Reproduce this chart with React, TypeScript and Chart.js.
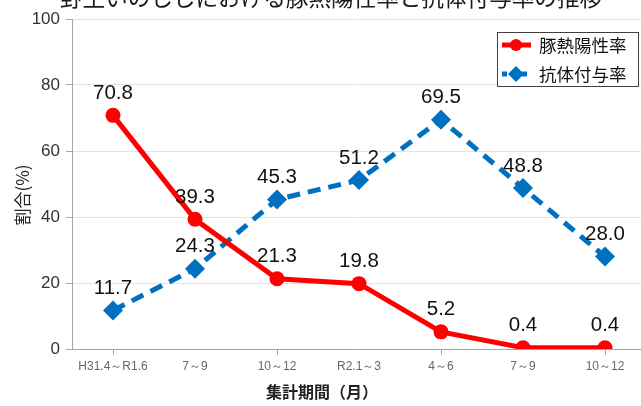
import { useEffect, useRef } from 'react';
import { Chart, registerables } from 'chart.js';
Chart.register(...registerables);

const categories = ['H31.4～R1.6', '7～9', '10～12', 'R2.1～3', '4～6', '7～9', '10～12'];
const positiveRate = [70.8, 39.3, 21.3, 19.8, 5.2, 0.4, 0.4];
const antibodyRate = [11.7, 24.3, 45.3, 51.2, 69.5, 48.8, 28.0];
const seriesNames = ['豚熱陽性率', '抗体付与率'];
const titleText = '野生いのししにおける豚熱陽性率と抗体付与率の推移';
const xTitle = '集計期間（月）';
const yTitle = '割合(%)';

const RED = '#ff0000';
const BLUE = '#0070c0';
const JP = '"Noto Sans CJK JP", "Noto Sans", sans-serif';
const NUM = '"Liberation Sans", Arial, sans-serif';

const overlay = {
  id: 'overlay',
  afterDatasetsDraw(chart: any) {
    const ctx = chart.ctx;
    ctx.save();
    ctx.font = `20.5px ${NUM}`;
    ctx.fillStyle = '#111';
    ctx.textAlign = 'center';
    ctx.textBaseline = 'middle';
    chart.data.datasets.forEach((ds: any, di: number) => {
      const meta = chart.getDatasetMeta(di);
      meta.data.forEach((pt: any, i: number) => {
        ctx.fillText(Number(ds.data[i]).toFixed(1), pt.x, pt.y - 22);
      });
    });
    ctx.restore();
  },
  afterDraw(chart: any) {
    const ctx = chart.ctx;
    ctx.save();
    // title (cropped at top)
    ctx.font = `22.6px ${JP}`;
    ctx.fillStyle = '#1a1a1a';
    ctx.textAlign = 'center';
    ctx.textBaseline = 'middle';
    ctx.fillText(titleText, 331, -3);
    // x title
    ctx.font = `bold 16px ${JP}`;
    ctx.fillStyle = '#222';
    ctx.fillText(xTitle, 322, 392);
    // y title
    ctx.save();
    ctx.translate(23, 195);
    ctx.rotate(-Math.PI / 2);
    ctx.font = `17px ${JP}`;
    ctx.fillText(yTitle, 0, 0);
    ctx.restore();
    // legend
    const lx = 497, ly = 32, lw = 141, lh = 54;
    ctx.fillStyle = '#fff';
    ctx.fillRect(lx, ly, lw, lh);
    ctx.strokeStyle = '#404040';
    ctx.lineWidth = 1;
    ctx.strokeRect(lx + 0.5, ly + 0.5, lw, lh);
    const rows = [
      { y: 45, color: RED, dash: [] as number[], style: 'circle' },
      { y: 74, color: BLUE, dash: [5, 5], style: 'diamond' },
    ];
    rows.forEach((r, i) => {
      ctx.strokeStyle = r.color;
      ctx.fillStyle = r.color;
      ctx.lineWidth = 5;
      ctx.setLineDash(r.dash);
      ctx.beginPath();
      ctx.moveTo(502, r.y);
      ctx.lineTo(531, r.y);
      ctx.stroke();
      ctx.setLineDash([]);
      ctx.beginPath();
      if (r.style === 'circle') {
        ctx.arc(516, r.y, 6, 0, Math.PI * 2);
      } else {
        ctx.moveTo(516, r.y - 8);
        ctx.lineTo(524, r.y);
        ctx.lineTo(516, r.y + 8);
        ctx.lineTo(508, r.y);
        ctx.closePath();
      }
      ctx.fill();
      ctx.fillStyle = '#111';
      ctx.font = `17.5px ${JP}`;
      ctx.textAlign = 'left';
      ctx.textBaseline = 'middle';
      ctx.fillText(seriesNames[i], 539, r.y);
    });
    ctx.restore();
  },
};

export default function App() {
  const ref = useRef<HTMLCanvasElement>(null);
  useEffect(() => {
    document.body.style.margin = '0';
    const chart = new Chart(ref.current!, {
      type: 'line',
      data: {
        labels: categories,
        datasets: [
          {
            label: seriesNames[0],
            data: positiveRate,
            borderColor: RED,
            backgroundColor: RED,
            borderWidth: 5,
            pointStyle: 'circle',
            pointRadius: 7.5,
            pointBorderWidth: 0,
            tension: 0,
          },
          {
            label: seriesNames[1],
            data: antibodyRate,
            borderColor: BLUE,
            backgroundColor: BLUE,
            borderWidth: 5,
            borderDash: [13, 8],
            pointStyle: 'rectRot',
            pointRadius: 10,
            pointBorderWidth: 0,
            tension: 0,
          },
        ],
      },
      options: {
        animation: false,
        responsive: false,
        devicePixelRatio: 1,
        layout: { padding: { top: 19, right: 14, left: 0, bottom: 0 } },
        plugins: { legend: { display: false }, title: { display: false }, tooltip: { enabled: false } },
        scales: {
          x: {
            type: 'category',
            offset: true,
            grid: {
              drawOnChartArea: false,
              color: (c: any) => (c.index % 2 === 0 ? '#a6a6a6' : 'rgba(0,0,0,0)'),
              tickLength: 6,
            },
            border: { color: '#a6a6a6', width: 1 },
            ticks: { font: { size: 12, family: NUM }, color: '#666', padding: 4, maxRotation: 0, autoSkip: false },
            afterFit: (s: any) => { s.height = 57; },
          },
          y: {
            min: 0,
            max: 100,
            ticks: { stepSize: 20, font: { size: 17, family: NUM }, color: '#333', padding: 6 },
            grid: { color: '#e4e4e4', tickColor: '#a6a6a6', tickLength: 6 },
            border: { color: '#a6a6a6', width: 1 },
            afterFit: (s: any) => { s.width = 72; },
          },
        },
      },
      plugins: [overlay],
    });
    return () => chart.destroy();
  }, []);
  return (
    <div style={{ width: 641, height: 406, overflow: 'hidden' }}>
      <canvas ref={ref} width={660} height={406} style={{ display: 'block' }} />
    </div>
  );
}
